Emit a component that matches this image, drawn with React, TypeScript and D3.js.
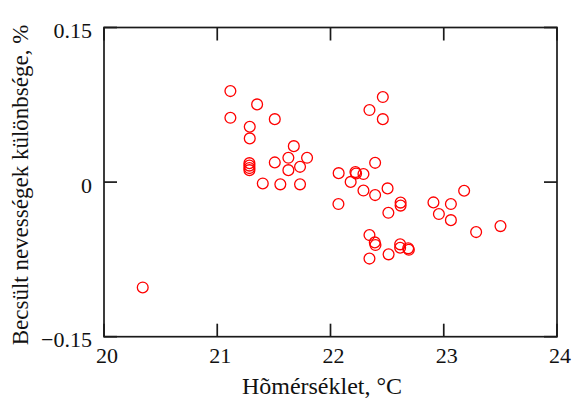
import React from "react";
import * as d3 from "d3";

const temperature: number[] = [
  20.342, 21.116, 21.352, 21.116, 21.508, 21.287, 21.287, 21.284, 21.284, 21.284,
  21.284, 21.676, 21.628, 21.793, 21.508, 21.731, 21.628, 21.402, 21.557, 21.731,
  22.462, 22.344, 22.462, 22.394, 22.072, 22.220, 22.226, 22.291, 22.178, 22.291,
  22.394, 22.504, 22.070, 22.619, 22.619, 22.511, 22.909, 23.063, 23.180, 22.957,
  23.063, 23.286, 23.501, 22.344, 22.391, 22.397, 22.344, 22.513, 22.615, 22.615,
  22.686, 22.692,
];
const difference: number[] = [
  -0.1022, 0.0883, 0.0754, 0.0624, 0.0611, 0.0537, 0.0424, 0.0184, 0.016, 0.0136,
  0.0116, 0.0349, 0.0236, 0.0236, 0.0191, 0.0148, 0.0116, -0.0013, -0.0022, -0.0022,
  0.0825, 0.0699, 0.0611, 0.0187, 0.0087, 0.0097, 0.0084, 0.0078, 0.0002, -0.0082,
  -0.0126, -0.0061, -0.0213, -0.0199, -0.0228, -0.0298, -0.0197, -0.0213, -0.0084, -0.031,
  -0.0369, -0.0485, -0.0427, -0.0514, -0.0585, -0.0611, -0.0742, -0.0701, -0.0604, -0.0637,
  -0.0643, -0.0657,
];
const xTicks: number[] = [20, 21, 22, 23, 24];
const yTicks: number[] = [0.15, 0, -0.15];
const yTickLabels: string[] = ["0.15", "0", "\u22120.15"];
const xTitle = "H\u00f5m\u00e9rs\u00e9klet, \u00b0C";
const yTitle = "Becs\u00fclt nevess\u00e9gek k\u00fcl\u00f6nbs\u00e9ge, %";

export default function App() {
  const W = 574;
  const H = 401;
  const left = 104, right = 557, top = 27.5, bottom = 336.7;
  const x = d3.scaleLinear().domain([20, 24]).range([left, right]);
  const y = d3.scaleLinear().domain([-0.15, 0.15]).range([bottom, top]);
  const font = "'Liberation Serif', 'Times New Roman', serif";
  const tickLen = 13;
  const axisColor = "#1a1a1a";
  return (
    <svg
      width={W}
      height={H}
      style={{ position: "absolute", left: 0, top: 0, background: "#fff" }}
    >
      <rect x={left} y={top} width={right - left} height={bottom - top} fill="none" stroke={axisColor} strokeWidth={1.7} />
      {xTicks.map((t) => (
        <g key={"xt" + t}>
          <line x1={x(t)} x2={x(t)} y1={bottom} y2={bottom - tickLen} stroke={axisColor} strokeWidth={1.7} />
          <line x1={x(t)} x2={x(t)} y1={top} y2={top + tickLen} stroke={axisColor} strokeWidth={1.7} />
          <text x={x(t) + 3} y={363} textAnchor="middle" fontFamily={font} fontSize={22} fill="#111">
            {t}
          </text>
        </g>
      ))}
      {yTicks.map((t, i) => (
        <g key={"yt" + t}>
          <line x1={left} x2={left + tickLen} y1={y(t)} y2={y(t)} stroke={axisColor} strokeWidth={1.7} />
          <line x1={right} x2={right - tickLen} y1={y(t)} y2={y(t)} stroke={axisColor} strokeWidth={1.7} />
          <text x={92} y={y(t) + 10.5} textAnchor="end" fontFamily={font} fontSize={22} fill="#111">
            {yTickLabels[i]}
          </text>
        </g>
      ))}
      {temperature.map((tv, i) => (
        <circle
          key={"p" + i}
          cx={x(tv)}
          cy={y(difference[i])}
          r={5.4}
          fill="none"
          stroke="#ff0000"
          strokeWidth={1.3}
        />
      ))}
      <text x={322} y={394} textAnchor="middle" fontFamily={font} fontSize={24} fill="#111">
        {xTitle}
      </text>
      <text
        transform={`translate(28, 185) rotate(-90)`}
        textAnchor="middle"
        fontFamily={font}
        fontSize={23}
        fill="#111"
      >
        {yTitle}
      </text>
    </svg>
  );
}
